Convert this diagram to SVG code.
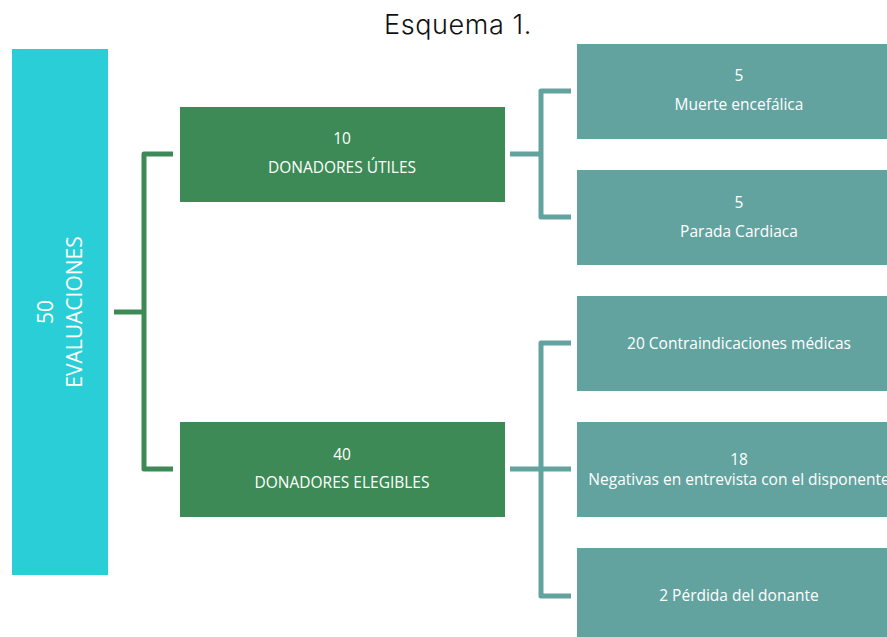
<svg xmlns="http://www.w3.org/2000/svg" width="887" height="637" viewBox="0 0 887 637">
<style>
.t{font-family:"Open Sans","Liberation Sans",sans-serif;fill:#fff;text-anchor:middle;font-size:15.5px}
.cy{fill:#29CED6}
.gr{fill:#3E8A56}
.tl{fill:#63A39F}
.cg{stroke:#3E8A56;stroke-width:5;fill:none;stroke-linejoin:round}
.ct{stroke:#63A39F;stroke-width:5;fill:none;stroke-linejoin:round}
</style>
<rect width="887" height="637" fill="#fff"/>
<text x="458" y="34" font-family="Inter,'Open Sans',sans-serif" font-size="27" font-weight="300" letter-spacing="0.6" text-anchor="middle" fill="#111">Esquema 1.</text>
<g id="connectors">
<path class="cg" d="M114 312H143M173 154H144V469H173"/>
<path class="ct" d="M510 154H540M571 91H541V217H571"/>
<path class="ct" d="M510 469H571M571 343H541V596H571"/>
</g>
<g id="evaluaciones">
<rect class="cy" x="12" y="49" width="96" height="526"/>
<text class="t" transform="translate(60,312) rotate(-90)" style="font-size:21px"><tspan x="0" y="-7">50</tspan><tspan x="0" y="22">EVALUACIONES</tspan></text>
</g>
<g id="utiles">
<rect class="gr" x="180" y="107" width="325" height="95"/>
<text class="t" x="342" y="144">10</text>
<text class="t" x="342" y="173">DONADORES ÚTILES</text>
</g>
<g id="elegibles">
<rect class="gr" x="180" y="422" width="325" height="95"/>
<text class="t" x="342" y="460">40</text>
<text class="t" x="342" y="488">DONADORES ELEGIBLES</text>
</g>
<g id="muerte">
<rect class="tl" x="577" y="44" width="320" height="95"/>
<text class="t" x="739" y="81">5</text>
<text class="t" x="739" y="110">Muerte encefálica</text>
</g>
<g id="parada">
<rect class="tl" x="577" y="170" width="320" height="95"/>
<text class="t" x="739" y="208">5</text>
<text class="t" x="739" y="237">Parada Cardiaca</text>
</g>
<g id="contra">
<rect class="tl" x="577" y="296" width="320" height="95"/>
<text class="t" x="739" y="349">20 Contraindicaciones médicas</text>
</g>
<g id="negativas">
<rect class="tl" x="577" y="422" width="320" height="95"/>
<text class="t" x="739" y="465">18</text>
<text class="t" x="739" y="485">Negativas en entrevista con el disponente</text>
</g>
<g id="perdida">
<rect class="tl" x="577" y="548" width="320" height="95"/>
<text class="t" x="739" y="601">2 Pérdida del donante</text>
</g>
</svg>
